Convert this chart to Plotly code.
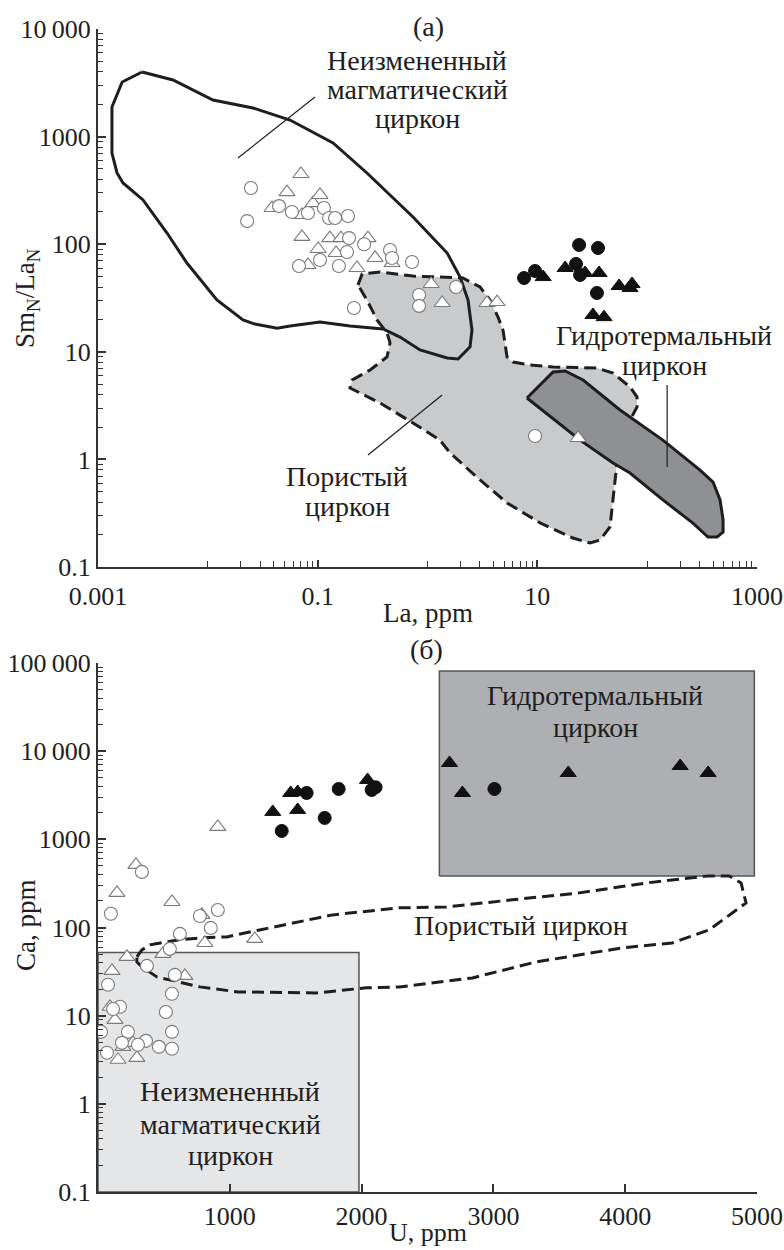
import plotly.graph_objects as go

# ---------------- panel (a): Sm_N/La_N vs La ----------------
# unaltered magmatic zircon field
mag_la = [0.00252, 0.00482, 0.01114, 0.0258, 0.0560, 0.138, 0.281, 0.562, 0.738, 1.51, 1.98, 2.34,
          2.54, 2.44, 1.90, 1.51, 0.855, 0.562, 0.394, 0.197, 0.105, 0.056, 0.0427, 0.0268, 0.0209,
          0.0121, 0.00645, 0.00425, 0.00257, 0.00169, 0.00149, 0.00134, 0.00134, 0.00166, 0.00252]
mag_ratio = [3983, 3357, 2188, 1845, 1426, 873, 459, 231, 179, 82.8, 49.5, 30.3,
             15.9, 11.1, 8.58, 8.75, 10.4, 13.7, 16.3, 17.4, 18.9, 17.4, 16.6, 18.1, 19.8,
             30.3, 66.8, 127, 258, 371, 459, 704, 1884, 3217, 3983]

# porous zircon field
por_la = [0.233, 0.254, 0.370, 0.738, 2.10, 3.01, 3.71, 4.39, 4.87, 5.08, 5.30, 6.01, 8.58, 13.9,
          34.9, 48.9, 69.8, 80.9, 80.9, 69.8, 56.6, 53.2, 48.9, 45.9, 37.2, 30.2, 21.1, 10.6, 5.30,
          3.01, 1.60, 1.30, 0.738, 0.370, 0.197, 0.206, 0.300, 0.428, 0.456, 0.428, 0.347, 0.281, 0.233]
por_ratio = [41.8, 52.9, 55.2, 50.6, 48.5, 40.0, 30.3, 21.0, 15.9, 12.1, 8.95, 8.04, 7.54, 7.22,
             7.07, 6.35, 4.71, 3.80, 3.07, 2.32, 1.51, 0.946, 0.420, 0.236, 0.178, 0.167, 0.186, 0.257, 0.394,
             0.644, 1.15, 1.51, 2.18, 3.34, 4.61, 5.47, 6.78, 8.95, 12.1, 15.0, 19.8, 30.3, 41.8]

# hydrothermal zircon field
hyd_la = [8.05, 13.9, 17.9, 26.1, 56.6, 139, 303, 398, 461, 491, 491, 433, 358, 261, 139, 69.8, 48.9, 24.5, 8.05]
hyd_ratio = [3.72, 6.49, 6.63, 5.47, 2.88, 1.51, 0.796, 0.616, 0.420, 0.274, 0.211, 0.190, 0.190,
             0.256, 0.420, 0.748, 0.927, 1.51, 3.72]

# label leader lines
lead_mag_la, lead_mag_ratio = [0.0188, 0.0946], [632, 2333]
lead_por_la, lead_por_ratio = [0.287, 1.36], [1.10, 3.97]
lead_hyd_la, lead_hyd_ratio = [152, 152], [4.91, 0.849]

# analyses: open circles / open triangles / filled circles / filled triangles
oc_la = [0.0247, 0.0228, 0.0445, 0.0583, 0.0816, 0.114, 0.127, 0.144, 0.189, 0.193, 0.185, 0.105,
         0.0676, 0.156, 0.265, 0.456, 0.475, 0.723, 1.82, 0.838, 0.838, 0.214, 9.53]
oc_ratio = [333, 164, 226, 199, 195, 217, 175, 175, 183, 114, 84.7, 71.3,
            62.7, 62.7, 100, 88.3, 74.5, 68.4, 40.0, 33.7, 26.7, 25.5, 1.65]
ot_la = [0.0705, 0.0526, 0.0384, 0.0908, 0.105, 0.0719, 0.0719, 0.129, 0.163, 0.101, 0.147,
         0.0816, 0.228, 0.287, 0.333, 0.475, 1.08, 1.36, 3.48, 4.30, 23.5]
ot_ratio = [449, 305, 217, 241, 287, 187, 117, 114, 114, 90.2, 82.8,
            64.1, 60.1, 114, 74.5, 66.8, 42.7, 28.4, 28.4, 29.0, 1.58]
fc_la = [7.57, 9.53, 24.0, 35.7, 22.5, 24.5, 34.9]
fc_ratio = [48.5, 56.4, 98.4, 92.2, 65.5, 51.8, 35.2]
ft_la = [11.3, 17.9, 27.2, 36.5, 55.5, 72.8, 69.8, 32.1, 40.5]
ft_ratio = [49.5, 60.1, 54.0, 54.0, 40.9, 42.7, 39.2, 22.0, 21.0]

# ---------------- panel (б): Ca vs U ----------------
magm_box_u = [0, 1980, 1980, 0, 0]
magm_box_ca = [0.1, 0.1, 52, 52, 0.1]
hyd_box_u = [2590, 4980, 4980, 2590, 2590]
hyd_box_ca = [385, 385, 81000, 81000, 385]
por2_u = [295, 333, 394, 606, 773, 977, 1227, 1530, 1780, 2288, 2644, 3144, 3652, 4159, 4636, 4788,
          4879, 4917, 4636, 4356, 3977, 3326, 2841, 2288, 2038, 1659, 1061, 773, 447, 333, 295, 295]
por2_ca = [46.4, 55.7, 63.5, 72.3, 76.2, 78.2, 93.9, 116, 139, 167, 171, 206, 247, 320, 385, 385,
           320, 190, 93.9, 66.8, 58.7, 40.7, 26.8, 21.2, 20.7, 18.1, 18.6, 21.2, 27.5, 35.7, 40.7, 46.4]

boc_u = [333, 98, 909, 773, 856, 621, 545, 371, 583, 76, 561, 167, 114, 515, 23, 227, 561, 182, 364,
         303, 462, 561, 68]
boc_ca = [427, 143, 158, 135, 98.9, 84.6, 57.2, 36.7, 29.0, 22.4, 17.7, 12.6, 11.9, 11.0, 6.55, 6.55,
          6.55, 4.92, 5.18, 4.67, 4.43, 4.21, 3.79]
bot_u = [288, 144, 561, 788, 1189, 811, 909, 220, 492, 106, 659, 91, 129, 265, 189, 152, 295]
bot_ca = [513, 247, 195, 139, 74.3, 66.8, 1383, 46.4, 50.2, 32.2, 28.3, 12.6, 8.96, 4.92, 4.43, 3.16, 3.32]
bfc_u = [1394, 1583, 1720, 1826, 2076, 2106, 3008]
bfc_ca = [1245, 3357, 1749, 3727, 3630, 3900, 3727]
bft_u = [1326, 1462, 1515, 1515, 2045, 2667, 2765, 3568, 4417, 4629]
bft_ca = [2046, 3357, 3446, 2155, 4714, 7350, 3357, 5660, 6790, 5660]

# tick labels
xa_major = [0.001, 0.1, 10, 1000]
xa_labels = ["0.001", "0.1", "10", "1000"]
ya_major = [0.1, 1, 10, 100, 1000, 10000]
ya_labels = ["0.1", "1", "10", "100", "1000", "10\u2009000"]
xb_major = [1000, 2000, 3000, 4000, 5000]
xb_labels = ["1000", "2000", "3000", "4000", "5000"]
yb_major = [0.1, 1, 10, 100, 1000, 10000, 100000]
yb_labels = ["0.1", "1", "10", "100", "1000", "10\u2009000", "100\u2009000"]

# ---------------- styling ----------------
FONT = "Liberation Serif"
INK = "#1e1e1e"
OPEN_EDGE = "#7a7a7a"
LIGHT_FILL = "#c9cacc"
DARK_FILL = "#8f9093"
BOX_LIGHT = "#e5e6e8"
BOX_DARK = "#aeafb2"
DASH = "12px,6px"
W, H = 784, 1250

fig = go.Figure()


def outline(x, y, xa, ya, fill=None, dash=None, width=3, color=INK):
    fig.add_trace(go.Scatter(
        x=x, y=y, xaxis=xa, yaxis=ya, mode="lines",
        fill="toself" if fill else None, fillcolor=fill,
        line=dict(color=color, width=width, dash=dash),
        hoverinfo="skip", showlegend=False))


def points(x, y, xa, ya, symbol, filled):
    fig.add_trace(go.Scatter(
        x=x, y=y, xaxis=xa, yaxis=ya, mode="markers",
        marker=dict(symbol=symbol, size=14 if "triangle" in symbol else 13,
                    color="#111111" if filled else "white",
                    line=dict(color="#111111" if filled else OPEN_EDGE, width=1 if filled else 1.1)),
        showlegend=False))


# panel (a)
outline(por_la, por_ratio, "x", "y", fill=LIGHT_FILL, dash=DASH)
outline(hyd_la, hyd_ratio, "x", "y", fill=DARK_FILL)
outline(mag_la, mag_ratio, "x", "y")
for lx, ly in [(lead_mag_la, lead_mag_ratio), (lead_por_la, lead_por_ratio), (lead_hyd_la, lead_hyd_ratio)]:
    outline(lx, ly, "x", "y", width=1.2)
points(ot_la, ot_ratio, "x", "y", "triangle-up", False)
points(oc_la, oc_ratio, "x", "y", "circle", False)
points(fc_la, fc_ratio, "x", "y", "circle", True)
points(ft_la, ft_ratio, "x", "y", "triangle-up", True)

# panel (б)
outline(magm_box_u, magm_box_ca, "x2", "y2", fill=BOX_LIGHT, width=1.5, color="#555555")
outline(hyd_box_u, hyd_box_ca, "x2", "y2", fill=BOX_DARK, width=1.5, color="#555555")
outline(por2_u, por2_ca, "x2", "y2", dash=DASH)
points(bot_u, bot_ca, "x2", "y2", "triangle-up", False)
points(boc_u, boc_ca, "x2", "y2", "circle", False)
points(bfc_u, bfc_ca, "x2", "y2", "circle", True)
points(bft_u, bft_ca, "x2", "y2", "triangle-up", True)


def decade_minors(lo, hi, decades=None):
    out = []
    for e in range(lo, hi):
        if decades is not None and e not in decades:
            continue
        out += [k * 10.0 ** e for k in range(2, 10)]
        if decades is not None:
            out.append(10.0 ** e)
    return out


axis_common = dict(showline=True, linecolor="#333333", linewidth=2, ticks="inside", ticklen=8,
                   tickwidth=1.5, tickcolor="#333333", showgrid=False, zeroline=False, mirror=False,
                   automargin=False, tickmode="array",
                   tickfont=dict(family=FONT, size=26, color=INK))
minor_common = dict(ticks="inside", ticklen=5, tickwidth=1.2, tickcolor="#333333", showgrid=False)

px_x = lambda p: p / W
px_y = lambda p: 1 - p / H

fig.update_layout(
    width=W, height=H, margin=dict(l=0, r=0, t=0, b=0, pad=0, autoexpand=False),
    paper_bgcolor="white", plot_bgcolor="white",
    xaxis=dict(axis_common, type="log", range=[-3, 3], domain=[px_x(98), px_x(757)], anchor="y",
               tickvals=xa_major, ticktext=xa_labels, ticklen=7, ticklabelstandoff=5,
               minor=dict(minor_common, ticklen=6, tickvals=decade_minors(-2, 3, (-2, 0, 2)))),
    yaxis=dict(axis_common, type="log", range=[-1, 4], domain=[px_y(567), px_y(29)], anchor="x",
               tickvals=ya_major, ticktext=ya_labels,
               minor=dict(minor_common, tickvals=decade_minors(-1, 4))),
    xaxis2=dict(axis_common, type="linear", range=[0, 5000], domain=[px_x(98), px_x(757)], anchor="y2",
                tickvals=xb_major, ticktext=xb_labels),
    yaxis2=dict(axis_common, type="log", range=[-1, 5], domain=[px_y(1192), px_y(663)], anchor="x2",
                tickvals=yb_major, ticktext=yb_labels,
                minor=dict(minor_common, tickvals=decade_minors(-1, 5))),
)


def label(text, x, y, angle=0, size=28, yanchor="middle"):
    fig.add_annotation(text=text, x=px_x(x), y=px_y(y), xref="paper", yref="paper",
                       showarrow=False, font=dict(family=FONT, size=size, color=INK),
                       textangle=angle, xanchor="center", yanchor=yanchor, align="center")


def block(lines, x, ys):
    for line, y in zip(lines, ys):
        label(line, x, y)


# panel (a) labels
label("(а)", 428, 26)
block(["Неизмененный", "магматический", "циркон"], 417, [60, 89, 118])
block(["Пористый", "циркон"], 347, [477, 506])
block(["Гидротермальный", "циркон"], 664, [336, 365])
label("Sm<sub>N</sub>/La<sub>N</sub>", 27, 298, -90, size=27)
label("La, ppm", 428, 613, size=27)

# panel (б) labels
label("(б)", 427, 649)
block(["Гидротермальный", "циркон"], 595, [695, 727])
label("Пористый циркон", 521, 925)
block(["Неизмененный", "магматический", "циркон"], 230, [1091, 1124, 1155])
label("Ca, ppm", 26, 925, -90, size=27)
label("U, ppm", 428, 1249, size=26, yanchor="bottom")

fig.write_html("out.html")
